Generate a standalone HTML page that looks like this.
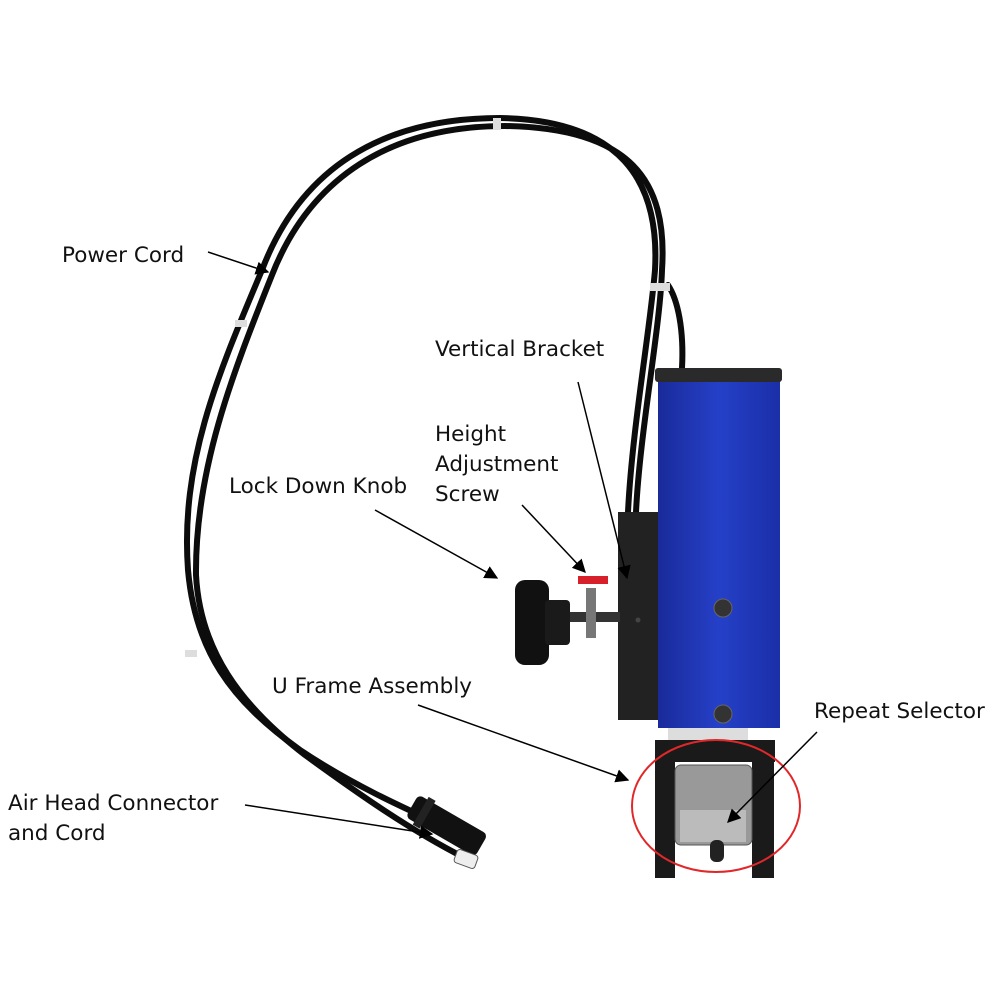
<!DOCTYPE html>
<html><head><style>
html,body{margin:0;padding:0;background:#fff;}
svg{display:block;}
text{font-family:"DejaVu Sans","Liberation Sans",sans-serif;font-size:21.5px;fill:#111;}
</style></head><body>
<svg width="1000" height="1000" viewBox="0 0 1000 1000" xmlns="http://www.w3.org/2000/svg">
<defs>
<marker id="ah" viewBox="0 0 10 10" refX="9" refY="5" markerWidth="9" markerHeight="9" orient="auto"><path d="M0,0 L10,5 L0,10 z" fill="#000"/></marker>
<linearGradient id="blue" x1="0" x2="1"><stop offset="0" stop-color="#1a2a9a"/><stop offset="0.5" stop-color="#2540c8"/><stop offset="1" stop-color="#1a2fa8"/></linearGradient>
</defs>
<g fill="none" stroke="#0c0c0c" stroke-width="6" stroke-linecap="round">
<path d="M628,512 C632,430 650,330 655,270 C660,180 620,120 500,118 C380,118 300,170 262,270 C220,370 180,460 188,570 C195,650 230,700 300,750 C360,790 420,815 470,838"/>
<path d="M636,512 C640,430 660,330 662,270 C668,180 630,128 505,126 C390,126 310,178 272,275 C232,375 195,470 196,575 C200,650 240,705 305,755 C360,795 410,830 465,858"/>
<path d="M682,368 C684,330 678,300 668,285"/>
</g>
<rect x="493" y="118" width="8" height="12" fill="#ddd"/>
<rect x="235" y="320" width="12" height="7" fill="#ddd"/>
<rect x="185" y="650" width="12" height="7" fill="#ddd"/>
<rect x="650" y="283" width="20" height="8" fill="#ddd"/>
<g transform="rotate(30 450 830)"><rect x="405" y="815" width="80" height="26" rx="5" fill="#111"/><rect x="415" y="812" width="8" height="32" fill="#222"/></g>
<rect x="455" y="852" width="22" height="14" rx="3" fill="#eee" stroke="#555" transform="rotate(20 466 859)"/>
<rect x="618" y="512" width="44" height="208" fill="#222"/>
<circle cx="638" cy="620" r="2.5" fill="#444"/>
<rect x="658" y="378" width="122" height="350" fill="url(#blue)"/>
<rect x="655" y="368" width="127" height="14" rx="3" fill="#2a2a2a"/>
<circle cx="723" cy="608" r="9" fill="#333" stroke="#666"/>
<circle cx="723" cy="714" r="9" fill="#333" stroke="#666"/>
<rect x="560" y="612" width="60" height="10" fill="#333"/>
<rect x="586" y="588" width="10" height="50" fill="#777"/>
<path d="M578,576 h30 v8 h-30 z" fill="#d8202a"/>
<rect x="515" y="580" width="34" height="85" rx="10" fill="#111"/>
<rect x="545" y="600" width="25" height="45" rx="4" fill="#1a1a1a"/>
<rect x="668" y="728" width="80" height="20" fill="#ddd"/>
<rect x="655" y="740" width="20" height="138" fill="#1a1a1a"/>
<rect x="752" y="740" width="22" height="138" fill="#1a1a1a"/>
<rect x="655" y="740" width="120" height="22" fill="#1a1a1a"/>
<rect x="675" y="765" width="77" height="80" rx="6" fill="#999" stroke="#555"/>
<rect x="680" y="810" width="66" height="32" fill="#bbb"/>
<rect x="710" y="840" width="14" height="22" rx="6" fill="#222"/>
<ellipse cx="716" cy="806" rx="84" ry="66" fill="none" stroke="#e0282a" stroke-width="2"/>
<text x="62" y="262">Power Cord</text>
<text x="435" y="356">Vertical Bracket</text>
<text x="435" y="441">Height</text>
<text x="435" y="471">Adjustment</text>
<text x="435" y="501">Screw</text>
<text x="229" y="493">Lock Down Knob</text>
<text x="272" y="693">U Frame Assembly</text>
<text x="814" y="718">Repeat Selector</text>
<text x="8" y="810">Air Head Connector</text>
<text x="8" y="840">and Cord</text>
<g stroke="#000" stroke-width="1.5" fill="none" marker-end="url(#ah)">
<line x1="208" y1="252" x2="268" y2="272"/>
<line x1="578" y1="382" x2="627" y2="578"/>
<line x1="522" y1="505" x2="585" y2="572"/>
<line x1="375" y1="510" x2="497" y2="578"/>
<line x1="418" y1="705" x2="628" y2="780"/>
<line x1="817" y1="732" x2="728" y2="822"/>
<line x1="245" y1="805" x2="432" y2="834"/>
</g>
</svg>
</body></html>
